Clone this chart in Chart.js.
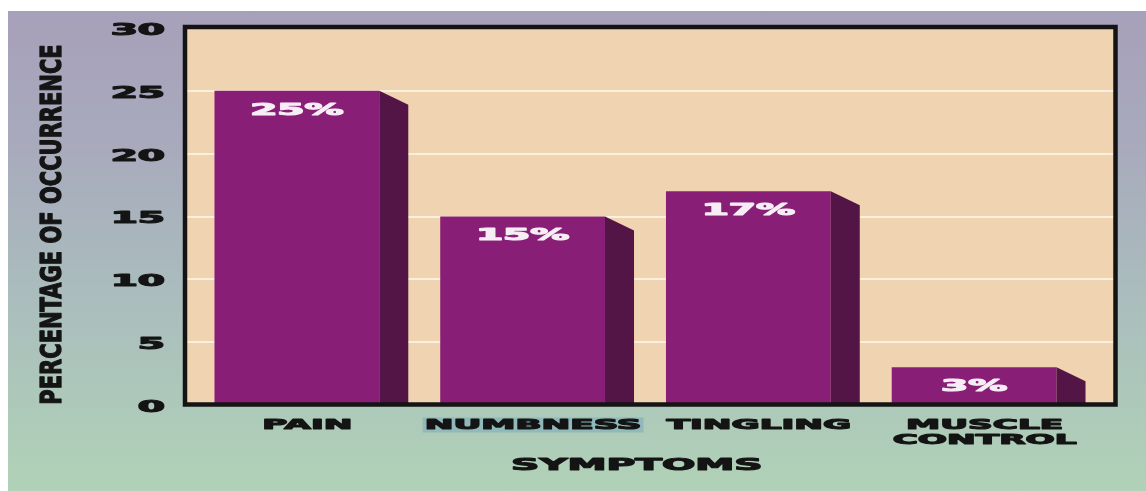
<!DOCTYPE html>
<html><head><meta charset="utf-8">
<script src="https://cdn.jsdelivr.net/npm/chart.js@4.4.1/dist/chart.umd.min.js"></script>
<style>
html,body{margin:0;padding:0;background:#fff;width:1146px;height:491px;overflow:hidden}
#wrap{position:absolute;left:8px;top:11px;width:1138px;height:480px;
background:linear-gradient(180deg,#a7a0ba 0%,#a8aabc 28%,#aabcbd 58%,#b0d2b7 100%);}
canvas{display:block}
</style></head><body>
<div id="wrap"><canvas id="c"></canvas></div>
<script>
// ---- data ----
const categories = [['PAIN'], ['NUMBNESS'], ['TINGLING'], ['MUSCLE', 'CONTROL']];
const values = [25, 15, 17, 3];
const valueLabels = ['25%', '15%', '17%', '3%'];
const yMin = 0, yMax = 30, yStep = 5;
const xTitle = 'SYMPTOMS';
const yTitle = 'PERCENTAGE OF OCCURRENCE';

// ---- styles ----
const FONT = '"DejaVu Sans", "Liberation Sans", sans-serif';
const FRONT = '#891e76';
const SIDE = '#521546';
const PEACH = '#f0d3b1';
const GRID = '#fbf0dd';
const INK = '#141414';
const DX = 29, DY = 14;

function stretchedText(ctx, text, x, y, size, sx, align, color) {
  ctx.save();
  ctx.translate(x, y);
  ctx.scale(sx, 1);
  ctx.font = 'bold ' + size + 'px ' + FONT;
  ctx.fillStyle = color;
  ctx.strokeStyle = color;
  ctx.lineWidth = 1.1;
  ctx.lineJoin = 'round';
  ctx.textAlign = align;
  ctx.textBaseline = 'middle';
  ctx.fillText(text, 0, 0);
  ctx.strokeText(text, 0, 0);
  ctx.restore();
}

function box(chart) {
  const a = chart.chartArea;
  return {l: a.left + 1, r: a.right + 28.5, t: a.top - 1, b: a.bottom - 0.5};
}

const deco = {
  id: 'deco',
  beforeDatasetsDraw(chart) {
    const ctx = chart.ctx, b = box(chart), ys = chart.scales.y;
    ctx.save();
    ctx.fillStyle = PEACH;
    ctx.fillRect(b.l, b.t, b.r - b.l, b.b - b.t);
    ctx.strokeStyle = GRID;
    ctx.lineWidth = 2;
    ys.ticks.forEach(t => {
      const py = Math.round(ys.getPixelForValue(t.value));
      ctx.beginPath(); ctx.moveTo(b.l, py); ctx.lineTo(b.r, py); ctx.stroke();
    });
    ctx.restore();
  },
  afterDatasetsDraw(chart) {
    const ctx = chart.ctx, meta = chart.getDatasetMeta(0);
    meta.data.forEach((el, i) => {
      const p = el.getProps(['x', 'y', 'base', 'width'], true);
      const fr = p.x + p.width / 2;
      ctx.save();
      ctx.fillStyle = SIDE;
      ctx.beginPath();
      ctx.moveTo(fr, p.y);
      ctx.lineTo(fr + DX, p.y + DY);
      ctx.lineTo(fr + DX, p.base);
      ctx.lineTo(fr, p.base);
      ctx.closePath();
      ctx.fill();
      ctx.restore();
      stretchedText(ctx, valueLabels[i], p.x, p.y + 20, 15, 2.6, 'center', '#f7eef5');
    });
  },
  afterDraw(chart) {
    const ctx = chart.ctx, b = box(chart), a = chart.chartArea;
    const ys = chart.scales.y, xs = chart.scales.x;
    // frame
    ctx.save();
    ctx.strokeStyle = INK;
    ctx.lineWidth = 4.5;
    ctx.strokeRect(b.l, b.t, b.r - b.l, b.b - b.t);
    ctx.restore();
    // y tick labels
    ys.ticks.forEach(t => {
      stretchedText(ctx, String(t.value), 157, ys.getPixelForValue(t.value) + 3, 15, 2.6, 'right', INK);
    });
    // x category labels
    xs.getLabels().forEach((lab, i) => {
      const cx = xs.getPixelForValue(i) + DX / 2 - 4;
      const lines = Array.isArray(lab) ? lab : [lab];
      lines.forEach((ln, k) => {
        const cy = b.b + 21 + k * 15;
        if (i === 1 && k === 0) {
          ctx.save();
          ctx.font = 'bold 14px ' + FONT;
          const w = ctx.measureText(ln).width * 2.45;
          ctx.fillStyle = 'rgba(70,140,190,0.28)';
          ctx.fillRect(cx - w / 2 - 2, cy - 8, w + 4, 15);
          ctx.restore();
        }
        stretchedText(ctx, ln, cx, cy, 14, 2.45, 'center', INK);
      });
    });
    // x title
    stretchedText(ctx, xTitle, (a.left + b.r) / 2 - 13, b.b + 61, 16, 2.45, 'center', INK);
    // y title (rotated)
    ctx.save();
    ctx.translate(46, (a.top + a.bottom) / 2 + 8);
    ctx.rotate(-Math.PI / 2);
    ctx.scale(1, 1.35);
    ctx.font = 'bold 21px ' + FONT;
    ctx.fillStyle = INK;
    ctx.strokeStyle = INK;
    ctx.lineWidth = 1;
    ctx.lineJoin = 'round';
    ctx.textAlign = 'center';
    ctx.textBaseline = 'middle';
    ctx.fillText(yTitle, 0, 0);
    ctx.strokeText(yTitle, 0, 0);
    ctx.restore();
  }
};

new Chart(document.getElementById('c'), {
  type: 'bar',
  data: {
    labels: categories,
    datasets: [{
      data: values,
      backgroundColor: FRONT,
      borderWidth: 0,
      barPercentage: 0.73,
      categoryPercentage: 1.0
    }]
  },
  options: {
    responsive: true,
    maintainAspectRatio: false,
    animation: false,
    devicePixelRatio: 1,
    layout: {padding: {left: 176, right: 59, top: 17, bottom: 86}},
    plugins: {legend: {display: false}, tooltip: {enabled: false}},
    scales: {
      x: {display: false, offset: true},
      y: {display: false, min: yMin, max: yMax, ticks: {stepSize: yStep}}
    }
  },
  plugins: [deco]
});
</script>
</body></html>
